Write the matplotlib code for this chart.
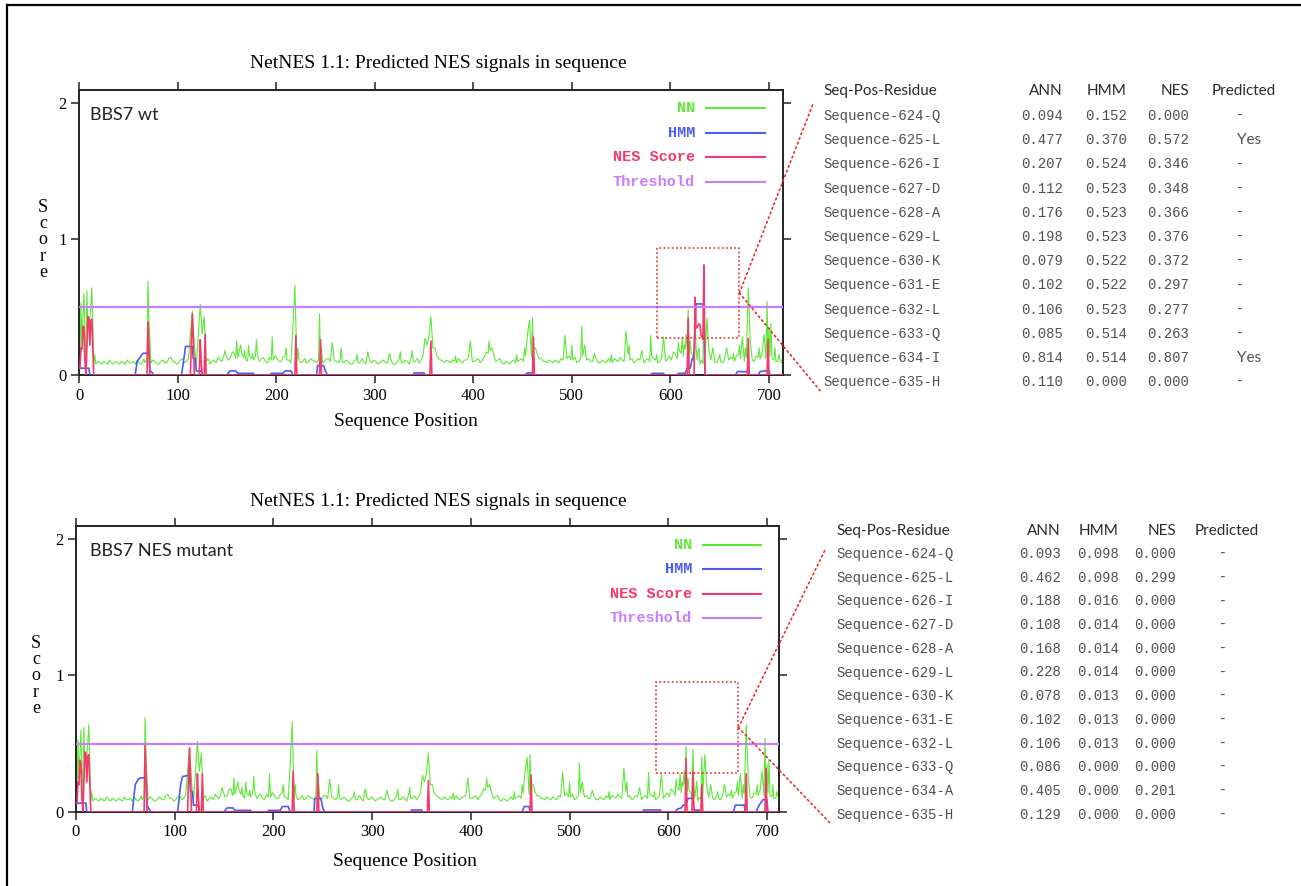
import matplotlib.pyplot as plt
import numpy as np
from matplotlib.lines import Line2D
from matplotlib.patches import Rectangle, ConnectionPatch

plt.rcParams['font.family'] = ['Liberation Serif', 'DejaVu Serif']

W, H = 1301, 886
seq_len = 715
threshold = 0.5

# NN floor every 4 residues (pos 1, 5, 9, ...)
nn_base = [
    0.12, 0.10, 0.14, 0.11, 0.08, 0.09, 0.10, 0.08, 0.09, 0.10, 0.08, 0.09, 0.11,
    0.09, 0.08, 0.09, 0.10, 0.12, 0.09, 0.10, 0.08, 0.11, 0.09, 0.13, 0.10,
    0.09, 0.12, 0.10, 0.14, 0.11, 0.09, 0.12, 0.10, 0.08, 0.11, 0.13, 0.10, 0.15,
    0.12, 0.17, 0.13, 0.16, 0.12, 0.14, 0.11, 0.15, 0.12, 0.10, 0.13, 0.11,
    0.12, 0.10, 0.14, 0.11, 0.13, 0.10, 0.09, 0.12, 0.10, 0.11, 0.09, 0.13, 0.10,
    0.12, 0.09, 0.10, 0.11, 0.09, 0.10, 0.08, 0.11, 0.09, 0.10, 0.12, 0.09,
    0.10, 0.09, 0.11, 0.09, 0.10, 0.08, 0.12, 0.09, 0.10, 0.13, 0.10, 0.09, 0.14,
    0.17, 0.15, 0.20, 0.12, 0.10, 0.11, 0.09, 0.10, 0.12, 0.09, 0.11, 0.14,
    0.10, 0.12, 0.11, 0.15, 0.18, 0.14, 0.11, 0.09, 0.10, 0.08, 0.11, 0.10, 0.12,
    0.14, 0.17, 0.19, 0.15, 0.12, 0.10, 0.11, 0.09, 0.10, 0.12, 0.10, 0.14,
    0.11, 0.09, 0.12, 0.15, 0.12, 0.10, 0.11, 0.09, 0.10, 0.12, 0.09, 0.11, 0.13,
    0.10, 0.15, 0.12, 0.10, 0.11, 0.09, 0.12, 0.14, 0.11, 0.10, 0.13, 0.12,
    0.11, 0.15, 0.18, 0.14, 0.20, 0.16, 0.12, 0.10, 0.12, 0.14, 0.11, 0.10, 0.12,
    0.09, 0.11, 0.13, 0.10, 0.15, 0.18, 0.13, 0.11, 0.10, 0.13, 0.16, 0.12,
    0.14, 0.11, 0.10, 0.09,
]
# NN floor in between (pos 3, 7, 11, ...)
nn_base_mid = [
    0.09, 0.13, 0.10, 0.08, 0.10, 0.08, 0.09, 0.11, 0.08, 0.09, 0.10, 0.08, 0.09,
    0.10, 0.11, 0.08, 0.09, 0.10, 0.11, 0.08, 0.10, 0.09, 0.12, 0.10, 0.08,
    0.11, 0.09, 0.12, 0.10, 0.08, 0.10, 0.09, 0.12, 0.10, 0.09, 0.11, 0.14, 0.11,
    0.16, 0.12, 0.19, 0.13, 0.10, 0.12, 0.14, 0.10, 0.13, 0.09, 0.11, 0.14,
    0.10, 0.13, 0.11, 0.09, 0.11, 0.12, 0.10, 0.09, 0.12, 0.10, 0.11, 0.09, 0.12,
    0.10, 0.11, 0.09, 0.10, 0.11, 0.08, 0.10, 0.09, 0.12, 0.08, 0.10, 0.11,
    0.08, 0.10, 0.09, 0.11, 0.08, 0.10, 0.09, 0.11, 0.08, 0.10, 0.12, 0.11, 0.16,
    0.13, 0.18, 0.14, 0.11, 0.09, 0.10, 0.11, 0.09, 0.10, 0.11, 0.13, 0.10,
    0.11, 0.09, 0.13, 0.16, 0.12, 0.10, 0.12, 0.08, 0.09, 0.10, 0.09, 0.11, 0.10,
    0.15, 0.13, 0.16, 0.12, 0.10, 0.09, 0.10, 0.11, 0.09, 0.11, 0.12, 0.11,
    0.13, 0.10, 0.14, 0.11, 0.10, 0.12, 0.09, 0.11, 0.09, 0.10, 0.12, 0.10, 0.11,
    0.12, 0.11, 0.09, 0.12, 0.10, 0.11, 0.10, 0.12, 0.09, 0.12, 0.10, 0.14,
    0.13, 0.12, 0.16, 0.19, 0.15, 0.14, 0.11, 0.12, 0.10, 0.12, 0.13, 0.09, 0.10,
    0.12, 0.11, 0.12, 0.14, 0.12, 0.10, 0.12, 0.11, 0.14, 0.12, 0.10, 0.13, 0.12,
    0.10, 0.12, 0.11,
]
nn_peaks = {
    2: 0.53, 3: 0.25, 5: 0.60, 6: 0.30, 8: 0.62, 9: 0.35, 11: 0.40, 13: 0.64,
    14: 0.38, 16: 0.15, 66: 0.12, 70: 0.69, 71: 0.40, 113: 0.30, 115: 0.47,
    117: 0.22, 121: 0.28, 123: 0.52, 125: 0.30, 127: 0.43, 148: 0.18, 156: 0.17,
    160: 0.25, 164: 0.22, 168: 0.18, 172: 0.22, 176: 0.16, 180: 0.26, 196: 0.28,
    210: 0.20, 217: 0.35, 219: 0.66, 222: 0.20, 244: 0.45, 246: 0.20, 257: 0.24,
    266: 0.20, 282: 0.15, 293: 0.17, 315: 0.16, 326: 0.17, 338: 0.18, 351: 0.27,
    353: 0.22, 355: 0.28, 357: 0.43, 359: 0.20, 382: 0.14, 397: 0.25, 413: 0.17,
    416: 0.25, 419: 0.20, 444: 0.15, 452: 0.20, 455: 0.30, 457: 0.40, 460: 0.42,
    463: 0.20, 493: 0.29, 500: 0.22, 510: 0.36, 513: 0.22, 523: 0.16, 540: 0.15,
    555: 0.32, 558: 0.22, 571: 0.18, 580: 0.29, 586: 0.15, 593: 0.28, 603: 0.17,
    608: 0.24, 612: 0.28, 614: 0.22, 616: 0.30, 618: 0.48, 620: 0.25, 637: 0.42,
    639: 0.18, 643: 0.20, 650: 0.15, 657: 0.20, 664: 0.16, 670: 0.22, 673: 0.28,
    676: 0.20, 679: 0.64, 681: 0.25, 690: 0.20, 695: 0.30, 698: 0.54, 700: 0.35,
    702: 0.38, 706: 0.20, 710: 0.15, 715: 0.10,
}

# HMM outline vertices (pos, value) outside the tabulated window
hmm_wt_pts = [
    (1, 0.05), (10, 0.05), (11, 0), (57, 0), (59, 0.10), (63, 0.14), (65, 0.16),
    (71, 0.16), (72, 0.03), (74, 0.02), (76, 0), (104, 0), (107, 0.15), (108, 0.21),
    (115, 0.21), (116, 0.12), (118, 0.12), (119, 0.03), (124, 0.03), (125, 0),
    (150, 0), (153, 0.03), (159, 0.03), (161, 0.012), (177, 0.012), (178, 0),
    (194, 0), (195, 0.012), (207, 0.012), (209, 0.03), (215, 0.03), (217, 0),
    (241, 0), (242, 0.07), (248, 0.07), (250, 0.03), (252, 0), (339, 0),
    (340, 0.015), (350, 0.015), (351, 0), (452, 0), (455, 0.015), (460, 0.015),
    (461, 0), (580, 0), (581, 0.012), (593, 0.012), (594, 0), (607, 0),
    (608, 0.012), (615, 0.012), (617, 0.05), (620, 0.05), (622, 0.12), (623, 0.12),
    (666, 0), (668, 0.025), (678, 0.025), (679, 0), (689, 0), (691, 0.025),
    (695, 0.03), (700, 0.03), (701, 0), (715, 0),
]
hmm_mut_pts = [
    (1, 0.065), (10, 0.065), (11, 0), (57, 0), (60, 0.20), (63, 0.24), (65, 0.25),
    (71, 0.25), (72, 0.05), (74, 0.02), (76, 0), (103, 0), (106, 0.20), (108, 0.26),
    (115, 0.27), (116, 0.15), (118, 0.15), (119, 0.05), (124, 0.05), (125, 0),
    (150, 0), (153, 0.03), (159, 0.03), (161, 0.012), (177, 0.012), (178, 0),
    (194, 0), (195, 0.012), (207, 0.012), (209, 0.04), (215, 0.04), (217, 0),
    (241, 0), (242, 0.10), (248, 0.10), (250, 0.03), (252, 0), (339, 0),
    (340, 0.015), (350, 0.015), (351, 0), (452, 0), (454, 0.04), (459, 0.04),
    (460, 0), (574, 0), (575, 0.015), (592, 0.015), (593, 0), (607, 0),
    (609, 0.02), (613, 0.03), (615, 0.05), (618, 0.05), (620, 0.10), (623, 0.10),
    (666, 0), (668, 0.05), (677, 0.05), (678, 0), (689, 0), (692, 0.05),
    (696, 0.09), (700, 0.09), (701, 0), (715, 0),
]

# NES score spikes outside the tabulated window
nes_wt_spikes = {
    1: 0.05, 2: 0.20, 3: 0.19, 4: 0.36, 5: 0.35, 6: 0.10, 8: 0.20, 9: 0.43,
    10: 0.42, 11: 0.22, 12: 0.40, 13: 0.41, 14: 0.20, 70: 0.39, 71: 0.20,
    114: 0.25, 115: 0.45, 116: 0.25, 123: 0.26, 124: 0.10, 128: 0.30, 220: 0.29,
    245: 0.26, 357: 0.25, 461: 0.28, 618: 0.42, 679: 0.27, 699: 0.26,
}
nes_mut_spikes = {
    1: 0.06, 2: 0.22, 3: 0.20, 4: 0.38, 5: 0.36, 6: 0.10, 8: 0.22, 9: 0.44,
    10: 0.43, 11: 0.22, 12: 0.41, 13: 0.42, 14: 0.20, 70: 0.49, 71: 0.25,
    114: 0.25, 115: 0.47, 116: 0.25, 123: 0.28, 124: 0.10, 128: 0.28, 220: 0.30,
    245: 0.28, 357: 0.23, 461: 0.27, 618: 0.39, 679: 0.28, 699: 0.32,
}

# tabulated window
table_pos = list(range(624, 636))
res_wt = ['Q', 'L', 'I', 'D', 'A', 'L', 'K', 'E', 'L', 'Q', 'I', 'H']
res_mut = ['Q', 'L', 'I', 'D', 'A', 'L', 'K', 'E', 'L', 'Q', 'A', 'H']
ann_wt = [0.094, 0.477, 0.207, 0.112, 0.176, 0.198, 0.079, 0.102, 0.106, 0.085, 0.814, 0.110]
hmm_wt = [0.152, 0.370, 0.524, 0.523, 0.523, 0.523, 0.522, 0.522, 0.523, 0.514, 0.514, 0.000]
nes_wt = [0.000, 0.572, 0.346, 0.348, 0.366, 0.376, 0.372, 0.297, 0.277, 0.263, 0.807, 0.000]
pred_wt = ['-', 'Yes', '-', '-', '-', '-', '-', '-', '-', '-', 'Yes', '-']
ann_mut = [0.093, 0.462, 0.188, 0.108, 0.168, 0.228, 0.078, 0.102, 0.106, 0.086, 0.405, 0.129]
hmm_mut = [0.098, 0.098, 0.016, 0.014, 0.014, 0.014, 0.013, 0.013, 0.013, 0.000, 0.000, 0.000]
nes_mut = [0.000, 0.299, 0.000, 0.000, 0.000, 0.000, 0.000, 0.000, 0.000, 0.000, 0.201, 0.000]
pred_mut = ['-'] * 12

C_NN = '#5ee838'
C_HMM = '#4c5cf2'
C_NES = '#f53a6b'
C_THR = '#c77dff'
C_BOX = '#ee2a2a'


def fx(px):
    return px / W


def fy(py):
    return 1 - py / H


def build_series(ann, hmm, nes, hmm_pts, nes_spikes):
    nn = {1 + 4 * i: v for i, v in enumerate(nn_base)}
    nn.update({3 + 4 * i: v for i, v in enumerate(nn_base_mid)})
    nn.update(nn_peaks)
    nn.update(dict(zip(table_pos, ann)))
    nn_x = sorted(nn)
    nn_y = [nn[p] for p in nn_x]

    hm = dict(hmm_pts)
    hm.update(dict(zip(table_pos, hmm)))
    hm_x = sorted(hm)
    hm_y = [hm[p] for p in hm_x]

    ne = np.zeros(seq_len)
    for p, v in nes_spikes.items():
        ne[p - 1] = v
    for p, v in zip(table_pos, nes):
        ne[p - 1] = v
    return nn_x, nn_y, hm_x, hm_y, ne


fig = plt.figure(figsize=(W / 100, H / 100), dpi=100)

# outer frame
fig.add_artist(Line2D([fx(7), fx(7)], [fy(5), 0], transform=fig.transFigure, color='black', lw=1.6))
fig.add_artist(Line2D([fx(7), 1], [fy(5), fy(5)], transform=fig.transFigure, color='black', lw=1.6))

panels = [
    dict(box=(79, 90, 783, 375), xmax=714.2, ymax=2.096, tag='BBS7 wt',
         ann=ann_wt, hmm=hmm_wt, nes=nes_wt, res=res_wt, pred=pred_wt,
         hmm_pts=hmm_wt_pts, nes_spikes=nes_wt_spikes,
         title_y=63, xlab=(406, 422), ylab=(43, 240), leg_x=695, leg_l=(706, 765),
         leg_y=[108, 133, 157, 182], zoom=(586, 0.272, 670, 0.934), link=[(813, 104), (822, 393)],
         tab=dict(x0=823, ann=1063, hmm=1127, nes=1189, pred_col=1237, pred_hdr=1244,
                  hdr_y=91, row0=116, step=24.2)),
    dict(box=(76, 526, 779, 812), xmax=712.2, ymax=2.095, tag='BBS7 NES mutant',
         ann=ann_mut, hmm=hmm_mut, nes=nes_mut, res=res_mut, pred=pred_mut,
         hmm_pts=hmm_mut_pts, nes_spikes=nes_mut_spikes,
         title_y=501, xlab=(405, 861), ylab=(36, 676), leg_x=692, leg_l=(703, 761),
         leg_y=[545, 569, 594, 618], zoom=(588, 0.286, 671, 0.952), link=[(826, 548), (830, 823)],
         tab=dict(x0=836, ann=1061, hmm=1119, nes=1176, pred_col=1220, pred_hdr=1227,
                  hdr_y=531, row0=554, step=23.7)),
]

for pan in panels:
    l, t, r, b = pan['box']
    ax = fig.add_axes([fx(l), fy(b), fx(r) - fx(l), fy(t) - fy(b)])
    nn_x, nn_y, hm_x, hm_y, ne = build_series(pan['ann'], pan['hmm'], pan['nes'],
                                              pan['hmm_pts'], pan['nes_spikes'])
    pos = np.arange(1, seq_len + 1)
    ax.plot(nn_x, nn_y, color=C_NN, lw=0.8, zorder=2)
    ax.plot(hm_x, hm_y, color=C_HMM, lw=1.2, zorder=3)
    ax.plot(pos, ne, color=C_NES, lw=1.2, zorder=4)
    ax.axhline(threshold, color=C_THR, lw=1.6, zorder=5)

    ax.set_xlim(0, pan['xmax'])
    ax.set_ylim(0, pan['ymax'])
    ax.set_xticks(range(0, 701, 100))
    ax.set_yticks([0, 1, 2])
    ax.tick_params(direction='out', length=6, width=1.1, top=True, right=True,
                   labelsize=12, color='#222222', pad=3)
    for s in ax.spines.values():
        s.set_color('#222222')
        s.set_linewidth(1.4)

    fig.text(fx(90), fy(t + 25), pan['tag'], family='Lato', fontsize=13,
             va='center', ha='left', color='#222222')

    # zoom box and links to the table
    x0, y0, x1, y1 = pan['zoom']
    ax.add_patch(Rectangle((x0, y0), x1 - x0, y1 - y0, fill=False, ec=C_BOX,
                           lw=1.2, ls=(0, (1, 1.5)), zorder=6))
    for lx, ly in pan['link']:
        cp = ConnectionPatch(xyA=(x1, (y0 + y1) / 2), coordsA=ax.transData,
                             xyB=(fx(lx), fy(ly)), coordsB=fig.transFigure,
                             color=C_BOX, lw=1.2, ls=(0, (1, 2)))
        fig.add_artist(cp)

    # legend, gnuplot style
    for name, col, yy in zip(['NN', 'HMM', 'NES Score', 'Threshold'],
                             [C_NN, C_HMM, C_NES, C_THR], pan['leg_y']):
        fig.text(fx(pan['leg_x']), fy(yy), name, family='Liberation Mono', fontsize=11,
                 weight='bold', color=col, ha='right', va='center')
        fig.add_artist(Line2D([fx(pan['leg_l'][0]), fx(pan['leg_l'][1])], [fy(yy), fy(yy)],
                              transform=fig.transFigure, color=col, lw=1.5))

    fig.text(fx(438), fy(pan['title_y']), 'NetNES 1.1: Predicted NES signals in sequence',
             fontsize=14, ha='center', va='center')
    fig.text(fx(pan['xlab'][0]), fy(pan['xlab'][1]), 'Sequence Position',
             fontsize=14, ha='center', va='center')
    fig.text(fx(pan['ylab'][0]), fy(pan['ylab'][1]), 'S\nc\no\nr\ne',
             fontsize=13, ha='center', va='center', linespacing=0.95)

    # table
    tb = pan['tab']
    hy = fy(tb['hdr_y'])
    hdr = dict(family='Lato', fontsize=11, color='#2a2a2a', va='center')
    fig.text(fx(tb['x0']), hy, 'Seq-Pos-Residue', ha='left', **hdr)
    fig.text(fx(tb['ann']), hy, 'ANN', ha='right', **hdr)
    fig.text(fx(tb['hmm']), hy, 'HMM', ha='right', **hdr)
    fig.text(fx(tb['nes']), hy, 'NES', ha='right', **hdr)
    fig.text(fx(tb['pred_hdr']), hy, 'Predicted', ha='center', **hdr)
    row = dict(family='Liberation Mono', fontsize=10, color='#505050', va='center')
    for i, p in enumerate(table_pos):
        yy = fy(tb['row0'] + i * tb['step'])
        fig.text(fx(tb['x0']), yy, 'Sequence-%d-%s' % (p, pan['res'][i]), ha='left', **row)
        fig.text(fx(tb['ann']), yy, '%.3f' % pan['ann'][i], ha='right', **row)
        fig.text(fx(tb['hmm']), yy, '%.3f' % pan['hmm'][i], ha='right', **row)
        fig.text(fx(tb['nes']), yy, '%.3f' % pan['nes'][i], ha='right', **row)
        fig.text(fx(tb['pred_col']), yy, pan['pred'][i], ha='left',
                 family='Lato', fontsize=11, color='#505050', va='center')

fig.savefig('out.png', dpi=100)
